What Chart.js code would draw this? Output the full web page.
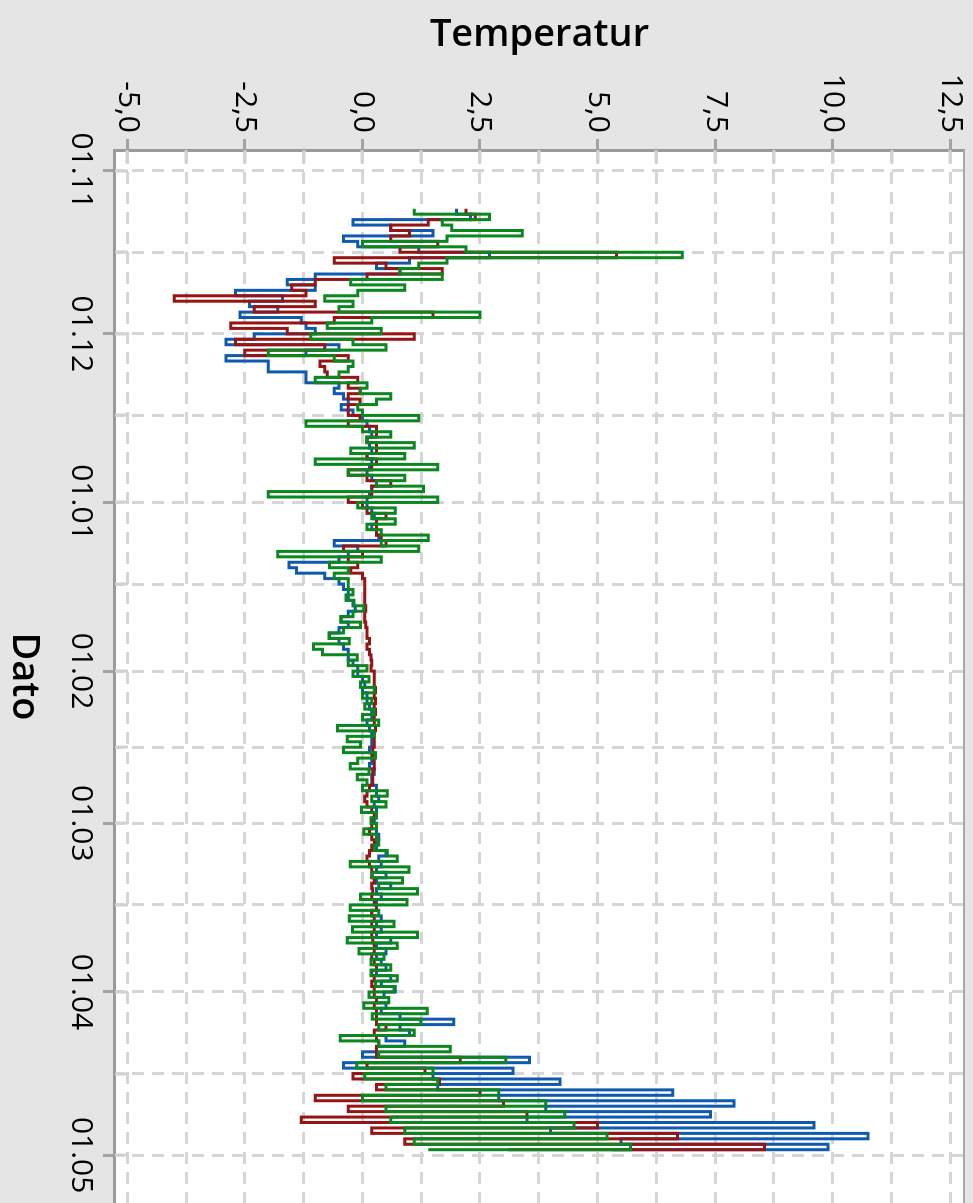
<!DOCTYPE html>
<html><head><meta charset="utf-8">
<script src="https://cdn.jsdelivr.net/npm/chart.js@4.4.0/dist/chart.umd.min.js"></script>
<style>
html,body{margin:0;padding:0;background:#e5e5e5;overflow:hidden;width:973px;height:1203px;}
#wrap{position:absolute;left:0;top:0;width:1203px;height:973px;transform-origin:0 0;transform:translate(973px,0) rotate(90deg);}
canvas{display:block;}
</style></head><body>
<div id="wrap"><canvas id="c" width="1203" height="973"></canvas></div>
<script>
// Day index 0 = 01.11; one value per day starting at dayStart
const dayStart = 7;
const blueTemps = [
 2.0,2.3,-0.2,0.6,1.5,-0.4,-0.1,1.2,2.7,1.0,
 0.3,0.8,-1.0,-1.6,-1.0,-2.7,-1.7,-2.4,-1.8,-2.6,
 -1.3,-1.2,-1.0,-2.3,-2.9,-0.5,-1.2,-2.9,-2.0,-2.0,
 -1.2,-1.2,-0.5,-0.6,-0.4,-0.3,-0.45,-0.2,0.0,0.1,
 0.15,0.2,0.1,0.15,0.2,0.1,0.2,0.15,0.1,0.2,
 0.3,0.2,0.15,0.1,0.1,0.2,0.25,0.3,0.2,0.3,
 0.35,-0.6,-0.1,-0.3,-0.5,-1.56,-1.4,-0.8,-0.5,
 -0.4,-0.3,-0.3,-0.2,-0.15,-0.3,-0.45,-0.3,-0.5,-0.7,
 -0.5,-0.4,-0.3,-0.3,-0.2,-0.1,-0.1,0.0,0.05,0.0,
 0.1,0.1,0.15,0.2,0.2,0.1,0.15,0.2,0.2,0.2,
 0.15,0.2,0.2,0.15,0.25,0.2,0.2,0.3,0.3,0.35,
 0.25,0.3,0.3,0.25,0.3,0.3,0.35,0.3,0.3,0.5,
 0.35,0.4,0.3,0.5,0.3,0.6,0.3,0.4,0.3,0.3,
 0.2,0.4,0.3,0.4,0.3,0.6,0.3,0.5,0.3,0.4,
 0.5,0.3,0.6,0.4,0.7,
 0.46,0.3,0.5,0.4,0.8,1.94,0.8,1.0,0.5,0.9,
 0.3,0.0,3.55,-0.4,3.2,1.5,4.2,1.6,6.6,2.9,
 7.9,3.9,7.4,3.5,9.6,4.0,10.75,5.5,9.9,5.3
];
const redTemps = [
 2.2,2.4,1.4,0.6,1.0,0.6,1.6,0.8,5.4,-0.6,
 0.5,1.7,0.1,-1.0,-1.5,-1.2,-4.0,-1.0,-2.3,1.5,
 -0.6,-2.8,-1.6,1.1,-2.7,-0.8,-2.5,-0.3,-0.9,-0.8,
 -0.75,-0.1,-0.3,-0.05,-0.3,-0.05,-0.3,-0.3,-0.05,-0.3,
 0.3,0.3,0.1,0.3,0.3,0.1,0.3,0.2,-0.3,0.1,
 0.6,0.2,0.2,-0.3,0.0,0.1,0.5,0.3,0.3,0.3,
 0.4,0.5,-0.4,0.0,-0.3,-0.1,-0.25,0.0,0.05,
 0.05,0.05,0.05,0.05,0.07,0.05,0.05,0.07,0.1,0.1,
 0.15,0.1,0.15,0.18,0.2,0.18,0.25,0.25,0.25,0.28,
 0.25,0.28,0.25,0.28,0.25,0.25,0.28,0.25,0.25,0.25,
 0.22,0.22,0.25,0.25,0.22,0.22,0.22,0.15,0.1,0.05,
 0.1,0.2,0.25,0.2,0.2,0.15,0.2,0.25,0.2,0.15,
 0.1,0.15,0.2,0.2,0.25,0.2,0.22,0.2,0.25,0.3,
 0.2,0.25,0.2,0.25,0.2,0.22,0.25,0.25,0.2,0.25,
 0.3,0.2,0.25,0.2,0.25,
 0.25,0.3,0.25,0.3,0.3,0.3,0.5,0.25,0.3,0.35,
 0.3,0.3,2.08,0.1,1.33,-0.2,1.64,0.3,2.5,-1.0,
 3.0,-0.3,3.5,-1.3,5.0,0.2,6.7,0.9,8.55,3.1
];
const greenTemps = [
 1.1,2.7,1.7,1.9,3.4,1.8,0.0,2.2,6.8,1.8,
 1.2,0.8,1.7,-0.25,0.9,-0.1,-0.8,-0.2,-0.5,2.5,
 0.2,-0.75,0.4,-1.1,-0.2,0.5,-2.0,-0.6,-0.2,-0.3,
 -0.5,-1.0,0.1,-0.04,0.6,0.3,-0.1,0.0,1.2,-1.2,
 0.0,0.6,0.1,1.1,-0.25,0.9,-1.0,1.6,-0.3,0.9,
 0.3,1.3,-2.0,1.6,-0.1,0.7,0.2,0.7,0.1,0.4,
 1.4,0.4,1.2,-1.8,0.4,-0.7,-0.3,-0.6,-0.3,
 -0.3,-0.2,-0.35,-0.18,0.03,-0.2,-0.46,-0.04,-0.4,-0.71,
 -0.28,-1.04,-0.85,-0.11,-0.3,0.1,-0.2,0.14,-0.04,0.25,
 0.0,0.2,0.05,0.25,0.0,0.35,-0.53,0.25,-0.32,-0.04,
 -0.4,0.28,-0.1,-0.26,0.14,-0.11,0.1,0.0,0.53,0.2,
 0.5,-0.02,0.3,0.18,0.3,0.03,0.3,0.35,0.25,0.53,
 0.74,-0.26,0.99,0.21,0.85,0.35,1.17,-0.04,0.95,-0.26,
 0.35,-0.28,0.67,-0.21,1.17,-0.32,0.74,-0.07,0.46,0.18,
 0.6,0.18,0.74,0.28,0.67,
 0.14,0.56,0.03,1.38,0.21,1.24,0.35,1.1,-0.47,0.35,
 1.87,0.35,3.05,-0.12,1.5,0.05,1.6,0.5,2.9,0.0,
 3.9,0.5,4.3,0.6,4.5,0.9,5.2,1.1,5.7,1.4
];
const dateTickDays   = [0,15,30,45,61,76,92,106,120,135,151,166,181];
const dateTickLabels = ['01.11','','01.12','','01.01','','01.02','','01.03','','01.04','','01.05'];
const tempTickValues = [-5,-3.75,-2.5,-1.25,0,1.25,2.5,3.75,5,6.25,7.5,8.75,10,11.25,12.5];
const tempTickLabels = ['-5,0','','-2,5','','0,0','','2,5','','5,0','','7,5','','10,0','','12,5'];

const toPoints = arr => arr.map((v, i) => ({x: dayStart + i, y: v}));

const FONT = "'Open Sans', 'Noto Sans', sans-serif";
const BG = '#e5e5e5';
const GRID = '#d6d6d6';
const AXIS = '#9a9a9a';

const frame = {
  id: 'frame',
  beforeDraw(chart) {
    const {ctx, chartArea: a} = chart;
    ctx.save();
    ctx.fillStyle = BG;
    ctx.fillRect(0, 0, chart.width, chart.height);
    ctx.fillStyle = '#ffffff';
    ctx.fillRect(a.left, a.top, a.right - a.left, a.bottom - a.top);
    ctx.restore();
  },
  beforeDatasetsDraw(chart) {
    const {ctx, chartArea: a, scales} = chart;
    ctx.save();
    ctx.strokeStyle = '#d2d2d2';
    ctx.lineWidth = 3;
    ctx.beginPath();
    dateTickDays.forEach(d => {
      const px = Math.round(scales.x.getPixelForValue(d));
      ctx.moveTo(px, a.bottom); ctx.lineTo(px, a.bottom - 13);
    });
    tempTickValues.forEach(t => {
      const py = Math.round(scales.y.getPixelForValue(t));
      ctx.moveTo(a.left, py); ctx.lineTo(a.left + 13, py);
    });
    ctx.stroke();
    ctx.strokeStyle = '#a8a8a8';
    ctx.lineWidth = 2;
    ctx.beginPath();
    ctx.moveTo(a.left, a.top); ctx.lineTo(a.right, a.top);
    ctx.stroke();
    ctx.restore();
  }
};

new Chart(document.getElementById('c'), {
  type: 'line',
  data: {
    datasets: [
      {label: 'green', data: toPoints(greenTemps), borderColor: '#0a871e', borderWidth: 3},
      {label: 'red',   data: toPoints(redTemps),   borderColor: '#961414', borderWidth: 3},
      {label: 'blue',  data: toPoints(blueTemps),  borderColor: '#0f5aaf', borderWidth: 3}
    ]
  },
  options: {
    responsive: false,
    animation: false,
    devicePixelRatio: 1,
    layout: {padding: {top: 9, right: 0, bottom: 0, left: 0}},
    elements: {
      line: {borderWidth: 3, stepped: true, tension: 0, fill: false, borderJoinStyle: 'miter'},
      point: {radius: 0}
    },
    plugins: {legend: {display: false}, tooltip: {enabled: false}},
    scales: {
      x: {
        type: 'linear', position: 'bottom', min: -3.8, max: 189.8,
        afterBuildTicks: s => { s.ticks = dateTickDays.map(v => ({value: v})); },
        afterFit: s => { s.height = 115; s.paddingLeft = 0; s.paddingRight = 0; s.paddingTop = 0; s.paddingBottom = 0; },
        ticks: {
          autoSkip: false, maxRotation: 0, minRotation: 0, padding: 4,
          callback: (v, i) => dateTickLabels[i],
          color: '#000', font: {family: FONT, size: 30, weight: '500'}
        },
        grid: {
          color: GRID, lineWidth: 3, drawTicks: true, tickLength: 12, tickWidth: 3,
          tickColor: c => dateTickLabels[c.index] ? '#a3a3a3' : 'rgba(0,0,0,0)'
        },
        border: {display: true, color: AXIS, width: 3, dash: [12, 8]},
        title: {display: true, text: 'Dato', color: '#000', font: {family: FONT, size: 38, weight: '600'}, padding: {top: 0, bottom: 1}}
      },
      y: {
        type: 'linear', position: 'left', min: -5.26, max: 12.79,
        afterBuildTicks: s => { s.ticks = tempTickValues.map(v => ({value: v})); },
        afterFit: s => { s.width = 150; s.paddingLeft = 0; s.paddingRight = 0; s.paddingTop = 0; s.paddingBottom = 0; },
        ticks: {
          autoSkip: false, padding: 6,
          callback: (v, i) => tempTickLabels[i],
          color: '#000', font: {family: FONT, size: 30, weight: '500'}
        },
        grid: {
          color: GRID, lineWidth: 3, drawTicks: true, tickLength: 11, tickWidth: 3,
          tickColor: c => tempTickLabels[c.index] ? '#a3a3a3' : 'rgba(0,0,0,0)'
        },
        border: {display: true, color: AXIS, width: 3, dash: [12, 8]},
        title: {display: true, text: 'Temperatur', color: '#000', font: {family: FONT, size: 38, weight: '600'}, padding: {top: 12, bottom: 0}}
      }
    }
  },
  plugins: [frame]
});
</script>
</body></html>
